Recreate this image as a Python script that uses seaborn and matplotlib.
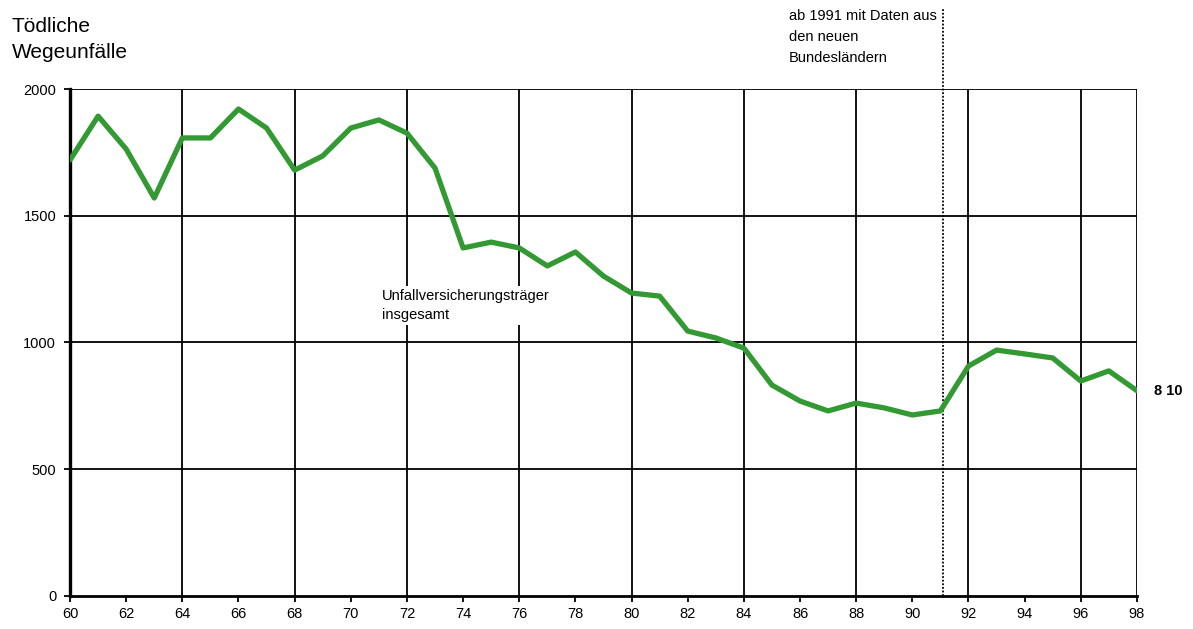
import matplotlib
matplotlib.use("Agg")
import matplotlib.pyplot as plt
import pandas as pd
import seaborn as sns

years = list(range(60, 99))
deaths = [1720, 1893, 1763, 1570, 1807, 1807, 1921, 1846, 1680, 1736,
          1846, 1878, 1826, 1688, 1373, 1396, 1373, 1302, 1357, 1262,
          1195, 1183, 1045, 1018, 978, 832, 769, 730, 761, 742,
          714, 730, 907, 970, 955, 939, 848, 888, 810]
grid_years = [64, 68, 72, 76, 80, 84, 88, 92, 96, 98]
y_ticks = [0, 500, 1000, 1500, 2000]
x_ticks = list(range(60, 99, 2))
break_year = 91.1

df = pd.DataFrame({"Jahr": years, "Wegeunfaelle": deaths})

sns.set_style("white")
plt.rcParams["font.family"] = ["Liberation Sans", "DejaVu Sans"]
plt.rcParams["text.color"] = "black"
plt.rcParams["xtick.color"] = "black"
plt.rcParams["ytick.color"] = "black"

fig = plt.figure(figsize=(11.93, 6.29), dpi=100)
ax = fig.add_axes([0.0587, 0.0525, 0.8943, 0.806])

for y in y_ticks[1:]:
    ax.axhline(y, color="black", lw=1.3, zorder=1)
for x in grid_years:
    ax.axvline(x, color="black", lw=1.3, zorder=1)

sns.lineplot(data=df, x="Jahr", y="Wegeunfaelle", color="#339933", lw=3.8,
             ax=ax, zorder=3)

ax.axvline(break_year, ymin=0, ymax=1.157, color="black", lw=1.3,
           linestyle=(0, (1, 1)), clip_on=False, zorder=2)

ax.set_xlim(60, 98)
ax.set_ylim(0, 2000)
ax.set_xticks(x_ticks)
ax.set_xticklabels([str(x) for x in x_ticks])
ax.set_yticks(y_ticks)
ax.set_xlabel("")
ax.set_ylabel("")
ax.tick_params(axis="both", direction="out", length=4, width=1.3,
               labelsize=10.5, colors="black")
ax.tick_params(axis="x", bottom=True, pad=4)
ax.tick_params(axis="y", left=True, pad=6)

for side in ["top", "right"]:
    ax.spines[side].set_visible(False)
ax.spines["left"].set_linewidth(2.4)
ax.spines["bottom"].set_linewidth(2.0)
ax.spines["left"].set_color("black")
ax.spines["bottom"].set_color("black")

ax.text(71.1, 1210, "Unfallversicherungsträger\ninsgesamt", fontsize=10.5,
        va="top", ha="left", linespacing=1.45,
        bbox=dict(facecolor="white", edgecolor="none", pad=2), zorder=2)

ax.text(98.6, deaths[-1], "8 10", fontsize=10.5, fontweight="bold",
        va="center", ha="left")

fig.text(789 / 1193, 1 - 9 / 629, "ab 1991 mit Daten aus\nden neuen\nBundesländern",
         fontsize=10.5, va="top", ha="left", linespacing=1.65)
fig.text(12 / 1193, 1 - 17 / 629, "Tödliche\nWegeunfälle", fontsize=15,
         va="top", ha="left", linespacing=1.5)

fig.savefig("out.png", dpi=100)
